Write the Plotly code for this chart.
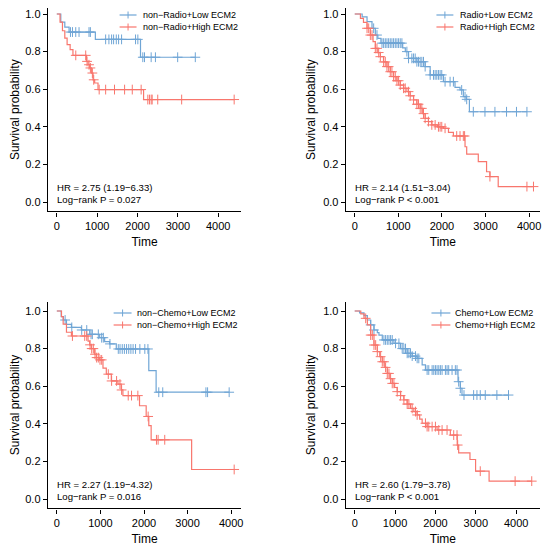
import numpy as np
import plotly.graph_objects as go

BLUE = "#6FA5D5"
RED = "#F8766D"
FONT = "Liberation Sans, Arial, sans-serif"

# ---- non-Radio ----
nonradio_low_time = [99, 198, 304, 955, 2074]
nonradio_low_surv = [0.957, 0.93, 0.904, 0.865, 0.77]
nonradio_low_cens = [338, 388, 469, 551, 798, 832, 1210, 1291, 1358, 1407, 1474, 1531,
                     1605, 1951, 2008, 2131, 2173, 2338, 2444, 2995, 3432]
nonradio_high_time = [80, 140, 198, 255, 330, 400, 733, 774, 815, 856, 897, 938, 1021, 2150]
nonradio_high_surv = [0.957, 0.911, 0.872, 0.837, 0.81, 0.78, 0.748, 0.73, 0.713, 0.686,
                      0.65, 0.633, 0.598, 0.545]
nonradio_high_cens = [470, 716, 749, 798, 832, 881, 914, 1050, 1210, 1430, 1680, 1870, 2090,
                      2255, 2296, 2338, 2363, 2501, 3094, 4395]

# ---- Radio ----
radio_low_time = [170, 282, 396, 472, 530, 600, 1100, 1160, 1234, 1425, 1615, 1730, 2034,
                  2300, 2415, 2491, 2560, 2630]
radio_low_surv = [0.985, 0.959, 0.924, 0.888, 0.87, 0.845, 0.82, 0.80, 0.764, 0.746, 0.72,
                  0.676, 0.64, 0.61, 0.596, 0.56, 0.546, 0.48]
radio_low_cens = [434, 510, 625, 663, 701, 739, 777, 815, 853, 891, 930, 968, 1006, 1044,
                  1082, 1196, 1234, 1310, 1349, 1387, 1425, 1463, 1501, 1539, 1577, 1615,
                  1730, 1806, 1844, 1882, 1920, 1958, 1996, 2072, 2187, 2263, 2453, 2530,
                  2568, 2720, 2987, 3216, 3482, 3710, 3950]
radio_high_time = [130, 200, 282, 358, 420, 472, 530, 587, 660, 739, 815, 891, 968, 1044,
                   1120, 1196, 1270, 1349, 1425, 1501, 1560, 1615, 1690, 1768, 1900, 2034,
                   2150, 2263, 2530, 2568, 2834, 3024, 3101, 3291]
radio_high_surv = [0.977, 0.955, 0.924, 0.888, 0.853, 0.817, 0.795, 0.773, 0.745, 0.72,
                   0.693, 0.667, 0.645, 0.622, 0.605, 0.587, 0.565, 0.543, 0.52, 0.498,
                   0.47, 0.445, 0.428, 0.41, 0.40, 0.392, 0.37, 0.351, 0.294, 0.255, 0.215,
                   0.161, 0.135, 0.082]
radio_high_cens = [282, 320, 358, 396, 472, 510, 549, 587, 663, 701, 739, 777, 815, 853,
                   891, 930, 968, 1006, 1044, 1120, 1158, 1234, 1272, 1349, 1425, 1463,
                   1501, 1539, 1577, 1615, 1691, 1768, 1844, 1920, 1958, 1996, 2072, 2339,
                   2415, 2491, 2520, 3101, 3950, 4100]

# ---- non-Chemo ----
nonchemo_low_time = [100, 150, 221, 335, 564, 754, 983, 1097, 1211, 1364, 2110, 2278]
nonchemo_low_surv = [0.97, 0.952, 0.929, 0.913, 0.899, 0.876, 0.858, 0.837, 0.825, 0.798,
                     0.683, 0.568]
nonchemo_low_cens = [190, 343, 571, 686, 785, 815, 952, 1029, 1067, 1219, 1410, 1450, 1501,
                     1550, 1600, 1650, 1699, 1750, 1806, 1905, 2019, 2090, 2339, 2430, 3421,
                     3459, 3954]
nonchemo_high_time = [107, 145, 221, 335, 716, 754, 792, 869, 907, 983, 1059, 1135, 1250,
                      1402, 1478, 1516, 1897, 2050, 2110, 2164, 3093]
nonchemo_high_surv = [0.97, 0.93, 0.887, 0.867, 0.84, 0.82, 0.80, 0.77, 0.752, 0.74, 0.696,
                      0.664, 0.628, 0.611, 0.58, 0.55, 0.496, 0.439, 0.39, 0.315, 0.157]
nonchemo_high_cens = [358, 640, 686, 762, 800, 838, 876, 914, 952, 990, 1029, 1181, 1257,
                      1371, 1448, 1486, 1638, 1714, 1859, 2095, 2286, 2324, 2476, 4069]

# ---- Chemo ----
chemo_low_time = [120, 230, 313, 395, 477, 560, 601, 683, 971, 1136, 1300, 1424, 1547, 1671,
                  1753, 2560, 2617, 2658]
chemo_low_surv = [0.99, 0.975, 0.952, 0.926, 0.899, 0.885, 0.872, 0.846, 0.828, 0.80, 0.775,
                  0.76, 0.748, 0.713, 0.686, 0.624, 0.589, 0.553]
chemo_low_cens = [395, 477, 724, 765, 807, 848, 889, 930, 1012, 1095, 1177, 1218, 1259, 1300,
                  1342, 1383, 1424, 1506, 1547, 1588, 1794, 1835, 1918, 1959, 2000, 2041,
                  2083, 2123, 2165, 2247, 2288, 2329, 2412, 2494, 2535, 2576, 2617, 2708,
                  2947, 3029, 3111, 3235, 3523, 3811]
chemo_high_time = [150, 230, 313, 395, 477, 560, 620, 683, 745, 807, 870, 930, 990, 1053,
                   1136, 1218, 1300, 1383, 1465, 1547, 1610, 1671, 1794, 2041, 2370, 2540,
                   2576, 2856, 2995, 3330]
chemo_high_surv = [0.985, 0.961, 0.926, 0.872, 0.819, 0.784, 0.757, 0.73, 0.70, 0.668, 0.64,
                   0.615, 0.593, 0.571, 0.55, 0.527, 0.505, 0.482, 0.465, 0.447, 0.425,
                   0.403, 0.385, 0.367, 0.34, 0.287, 0.245, 0.21, 0.148, 0.095]
chemo_high_cens = [272, 395, 436, 477, 519, 560, 642, 683, 724, 765, 807, 848, 889, 930, 971,
                   1053, 1136, 1218, 1300, 1342, 1424, 1506, 1547, 1753, 1794, 1835, 1918,
                   2000, 2083, 2165, 2288, 2453, 2535, 2551, 3111, 3975, 4387]

# panel geometry in page pixels: x axis span, (y of 1.0, y of 0.0), x range, legend spot
panels = [
    dict(low=(nonradio_low_time, nonradio_low_surv, nonradio_low_cens),
         high=(nonradio_high_time, nonradio_high_surv, nonradio_high_cens),
         names=("non\u2212Radio+Low ECM2", "non\u2212Radio+High ECM2"),
         hr="HR = 2.75 (1.19\u22126.33)", p="Log\u2212rank P = 0.027",
         xdom=(48, 242), ypx=(14, 202), xr=(-222, 4568),
         leg=(120, 137, 143, 15)),
    dict(low=(radio_low_time, radio_low_surv, radio_low_cens),
         high=(radio_high_time, radio_high_surv, radio_high_cens),
         names=("Radio+Low ECM2", "Radio+High ECM2"),
         hr="HR = 2.14 (1.51\u22123.04)", p="Log\u2212rank P < 0.001",
         xdom=(347, 542), ypx=(14, 202), xr=(-206, 4251),
         leg=(438, 455, 462, 15)),
    dict(low=(nonchemo_low_time, nonchemo_low_surv, nonchemo_low_cens),
         high=(nonchemo_high_time, nonchemo_high_surv, nonchemo_high_cens),
         names=("non\u2212Chemo+Low ECM2", "non\u2212Chemo+High ECM2"),
         hr="HR = 2.27 (1.19\u22124.32)", p="Log\u2212rank P = 0.016",
         xdom=(48, 242), ypx=(311, 499), xr=(-206, 4229),
         leg=(114, 132, 137, 313)),
    dict(low=(chemo_low_time, chemo_low_surv, chemo_low_cens),
         high=(chemo_high_time, chemo_high_surv, chemo_high_cens),
         names=("Chemo+Low ECM2", "Chemo+High ECM2"),
         hr="HR = 2.60 (1.79\u22123.78)", p="Log\u2212rank P < 0.001",
         xdom=(347, 542), ypx=(311, 499), xr=(-222, 4593),
         leg=(433, 452, 457, 313)),
]

W, H = 550, 549
OFF = 8  # the page body adds an 8px margin, so shift everything back


def km_steps(times, surv, cens):
    last = max(times[-1], cens[-1])
    x = [0] + list(times) + [last]
    y = [1.0] + list(surv) + [surv[-1]]
    cy = np.r_[1.0, surv][np.searchsorted(times, cens, side="right")]
    return x, y, cy


def fx(px):
    return (px - OFF) / W


def fy(py):
    return 1 - (py - OFF) / H


fig = go.Figure()
shapes, annots = [], []

for i, p in enumerate(panels, start=1):
    sfx = "" if i == 1 else str(i)
    for key, color in (("low", BLUE), ("high", RED)):
        t, s, c = p[key]
        x, y, cy = km_steps(t, s, c)
        fig.add_trace(go.Scatter(x=x, y=y, mode="lines", line=dict(color=color, width=1.2, shape="hv"),
                                 xaxis="x" + sfx, yaxis="y" + sfx, showlegend=False, hoverinfo="skip"))
        fig.add_trace(go.Scatter(x=c, y=cy, mode="markers",
                                 marker=dict(symbol="cross-thin", size=7, line=dict(color=color, width=1)),
                                 xaxis="x" + sfx, yaxis="y" + sfx, showlegend=False))

    y1, y0 = p["ypx"]
    scale = y0 - y1
    top = max(y1 - 0.05 * scale, OFF)
    bot = y0 + 0.05 * scale
    yr = [-(bot - y0) / scale, 1 + (y1 - top) / scale]
    xd = [fx(p["xdom"][0]), fx(p["xdom"][1])]
    yd = [fy(bot), fy(top)]
    axis_common = dict(showline=True, linecolor="black", linewidth=1.2, ticks="outside",
                       ticklen=4, tickwidth=1, tickcolor="black", showgrid=False, zeroline=False,
                       ticklabeloverflow="allow",
                       tickfont=dict(size=11, color="black", family=FONT))
    fig.update_layout(**{
        "xaxis" + sfx: dict(domain=xd, range=list(p["xr"]), anchor="y" + sfx,
                            tickvals=[0, 1000, 2000, 3000, 4000], tickformat="d",
                            title=dict(text="Time", font=dict(size=12, color="black", family=FONT),
                                       standoff=6), **axis_common),
        "yaxis" + sfx: dict(domain=yd, range=yr, anchor="x" + sfx,
                            tickvals=[0, 0.2, 0.4, 0.6, 0.8, 1.0], tickformat=".1f",
                            title=dict(text="Survival probability",
                                       font=dict(size=12, color="black", family=FONT), standoff=4),
                            **axis_common),
    })

    # HR / log-rank text
    for txt, yy in ((p["hr"], 0.078), (p["p"], 0.012)):
        annots.append(dict(x=0, y=yy, xref="x" + sfx, yref="y" + sfx, text=txt, showarrow=False,
                           xanchor="left", yanchor="middle", xshift=-2,
                           font=dict(size=9.6, color="black", family=FONT)))

    # legend drawn by hand
    lx0, lx1, tx, ly = p["leg"]
    for k, (name, color) in enumerate(zip(p["names"], (BLUE, RED))):
        yf = fy(ly + 12 * k)
        shapes.append(dict(type="line", xref="paper", yref="paper", x0=fx(lx0), x1=fx(lx1),
                           y0=yf, y1=yf, line=dict(color=color, width=1.2)))
        xm = fx((lx0 + lx1) / 2)
        shapes.append(dict(type="line", xref="paper", yref="paper", x0=xm, x1=xm,
                           y0=yf - 3.5 / H, y1=yf + 3.5 / H, line=dict(color=color, width=1)))
        annots.append(dict(x=fx(tx), y=yf, xref="paper", yref="paper", text=name, showarrow=False,
                           xanchor="left", yanchor="middle", xshift=-2,
                           font=dict(size=9, color="black", family=FONT)))

fig.update_layout(width=W, height=H, margin=dict(l=0, r=0, t=0, b=0),
                  plot_bgcolor="white", paper_bgcolor="white",
                  font=dict(family=FONT, color="black"),
                  shapes=shapes, annotations=annots)

fig.write_html("out.html")
